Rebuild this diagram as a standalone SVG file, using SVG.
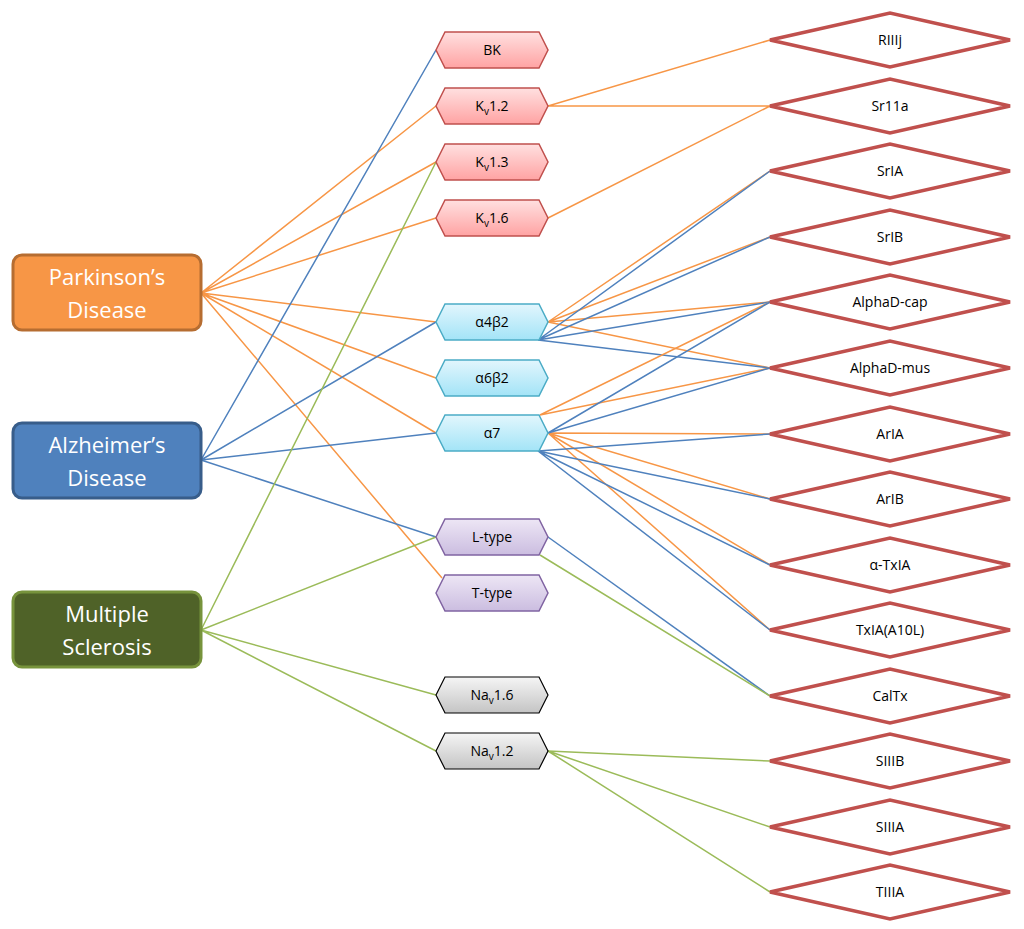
<svg xmlns="http://www.w3.org/2000/svg" width="1024" height="929" viewBox="0 0 1024 929">
<defs>
<linearGradient id="gp" x1="0" y1="0" x2="0" y2="1"><stop offset="0" stop-color="#FFE0E0"/><stop offset="1" stop-color="#FFA3A3"/></linearGradient>
<linearGradient id="gc" x1="0" y1="0" x2="0" y2="1"><stop offset="0" stop-color="#E2F6FD"/><stop offset="1" stop-color="#A3E4F7"/></linearGradient>
<linearGradient id="gv" x1="0" y1="0" x2="0" y2="1"><stop offset="0" stop-color="#EDE6F5"/><stop offset="1" stop-color="#CBBDE0"/></linearGradient>
<linearGradient id="gg" x1="0" y1="0" x2="0" y2="1"><stop offset="0" stop-color="#F5F5F5"/><stop offset="1" stop-color="#C4C4C4"/></linearGradient>
<polygon id="hex" points="-56,0 -47,-18 47,-18 56,0 47,18 -47,18"/>
<polygon id="dia" points="-120,0 0,-27 120,0 0,27"/>
</defs>
<style>
.t{font-family:"Open Sans","Liberation Sans",sans-serif;font-size:14px;fill:#000;text-anchor:middle}
.d{font-family:"Open Sans","Liberation Sans",sans-serif;font-size:22px;fill:#fff;text-anchor:middle}
.o{stroke:#F79646;stroke-width:1.5;fill:none}
.b{stroke:#4F81BD;stroke-width:1.5;fill:none}
.g{stroke:#9BBB59;stroke-width:1.5;fill:none}
.hp{fill:url(#gp);stroke:#C0504D;stroke-width:1.5}
.hc{fill:url(#gc);stroke:#4BACC6;stroke-width:1.5}
.hv{fill:url(#gv);stroke:#8064A2;stroke-width:1.5}
.hg{fill:url(#gg);stroke:#000;stroke-width:1.2}
.dm{fill:#fff;stroke:#C0504D;stroke-width:3.5}
</style>
<g id="connectors">
<path class="o" d="M201,293L436,106M201,293L436,162M201,293L436,218M201,293L436,322M201,293L436,378M201,293L436,433M201,293L442,578"/>
<path class="b" d="M201,460L436,50M201,460L436,322M201,460L436,433M201,460L436,537"/>
<path class="g" d="M201,630L436,162M201,630L436,537M201,630L436,695M201,630L436,751"/>
<path class="o" d="M548,106L770,40M548,106L770,106M548,218L770,106"/>
<path class="o" d="M548,322L770,171M548,322L770,237M548,322L770,302M548,322L770,368"/>
<path class="b" d="M538,340L770,171M538,340L770,237M538,340L770,302M538,340L770,368"/>
<path class="o" d="M540,415L770,302M540,415L770,368M548,433L770,434M548,433L770,499M548,433L770,565M548,433L770,630"/>
<path class="b" d="M548,433L770,302M548,433L770,368M538,451L770,434M538,451L770,499M538,451L770,565M538,451L770,630"/>
<path class="b" d="M548,537L770,696"/>
<path class="g" d="M540,555L770,696M548,751L770,761M548,751L770,827M548,751L770,892"/>
</g>
<g id="parkinson"><rect x="13" y="255" width="188" height="75" rx="9" fill="#F79646" stroke="#B66D31" stroke-width="3"/><text class="d" x="107" y="285">Parkinson’s</text><text class="d" x="107" y="318">Disease</text></g>
<g id="alzheimer"><rect x="13" y="423" width="188" height="75" rx="9" fill="#4F81BD" stroke="#385D8A" stroke-width="3"/><text class="d" x="107" y="453">Alzheimer’s</text><text class="d" x="107" y="486">Disease</text></g>
<g id="ms"><rect x="13" y="592" width="188" height="75" rx="9" fill="#4F6228" stroke="#77933C" stroke-width="3"/><text class="d" x="107" y="622">Multiple</text><text class="d" x="107" y="655">Sclerosis</text></g>
<g id="bk"><use href="#hex" x="492" y="50" class="hp"/><text class="t" x="492" y="55">BK</text></g>
<g id="kv12"><use href="#hex" x="492" y="106" class="hp"/><text class="t" x="492" y="111">K<tspan font-size="10" dy="4">v</tspan><tspan dy="-4">1.2</tspan></text></g>
<g id="kv13"><use href="#hex" x="492" y="162" class="hp"/><text class="t" x="492" y="167">K<tspan font-size="10" dy="4">v</tspan><tspan dy="-4">1.3</tspan></text></g>
<g id="kv16"><use href="#hex" x="492" y="218" class="hp"/><text class="t" x="492" y="223">K<tspan font-size="10" dy="4">v</tspan><tspan dy="-4">1.6</tspan></text></g>
<g id="a4b2"><use href="#hex" x="492" y="322" class="hc"/><text class="t" x="492" y="327">α4β2</text></g>
<g id="a6b2"><use href="#hex" x="492" y="378" class="hc"/><text class="t" x="492" y="383">α6β2</text></g>
<g id="a7"><use href="#hex" x="492" y="433" class="hc"/><text class="t" x="492" y="438">α7</text></g>
<g id="ltype"><use href="#hex" x="492" y="537" class="hv"/><text class="t" x="492" y="542">L-type</text></g>
<g id="ttype"><use href="#hex" x="492" y="593" class="hv"/><text class="t" x="492" y="598">T-type</text></g>
<g id="nav16"><use href="#hex" x="492" y="695" class="hg"/><text class="t" x="492" y="700">Na<tspan font-size="10" dy="4">v</tspan><tspan dy="-4">1.6</tspan></text></g>
<g id="nav12"><use href="#hex" x="492" y="751" class="hg"/><text class="t" x="492" y="756">Na<tspan font-size="10" dy="4">v</tspan><tspan dy="-4">1.2</tspan></text></g>
<g id="riiij"><use href="#dia" x="890" y="40" class="dm"/><text class="t" x="890" y="45">RIIIj</text></g>
<g id="sr11a"><use href="#dia" x="890" y="106" class="dm"/><text class="t" x="890" y="111">Sr11a</text></g>
<g id="sria"><use href="#dia" x="890" y="171" class="dm"/><text class="t" x="890" y="176">SrIA</text></g>
<g id="srib"><use href="#dia" x="890" y="237" class="dm"/><text class="t" x="890" y="242">SrIB</text></g>
<g id="adcap"><use href="#dia" x="890" y="302" class="dm"/><text class="t" x="890" y="307">AlphaD-cap</text></g>
<g id="admus"><use href="#dia" x="890" y="368" class="dm"/><text class="t" x="890" y="373">AlphaD-mus</text></g>
<g id="aria"><use href="#dia" x="890" y="434" class="dm"/><text class="t" x="890" y="439">ArIA</text></g>
<g id="arib"><use href="#dia" x="890" y="499" class="dm"/><text class="t" x="890" y="504">ArIB</text></g>
<g id="atxia"><use href="#dia" x="890" y="565" class="dm"/><text class="t" x="890" y="570">α-TxIA</text></g>
<g id="txia"><use href="#dia" x="890" y="630" class="dm"/><text class="t" x="890" y="635">TxIA(A10L)</text></g>
<g id="caltx"><use href="#dia" x="890" y="696" class="dm"/><text class="t" x="890" y="701">CalTx</text></g>
<g id="siiib"><use href="#dia" x="890" y="761" class="dm"/><text class="t" x="890" y="766">SIIIB</text></g>
<g id="siiia"><use href="#dia" x="890" y="827" class="dm"/><text class="t" x="890" y="832">SIIIA</text></g>
<g id="tiiia"><use href="#dia" x="890" y="892" class="dm"/><text class="t" x="890" y="897">TIIIA</text></g>
</svg>
